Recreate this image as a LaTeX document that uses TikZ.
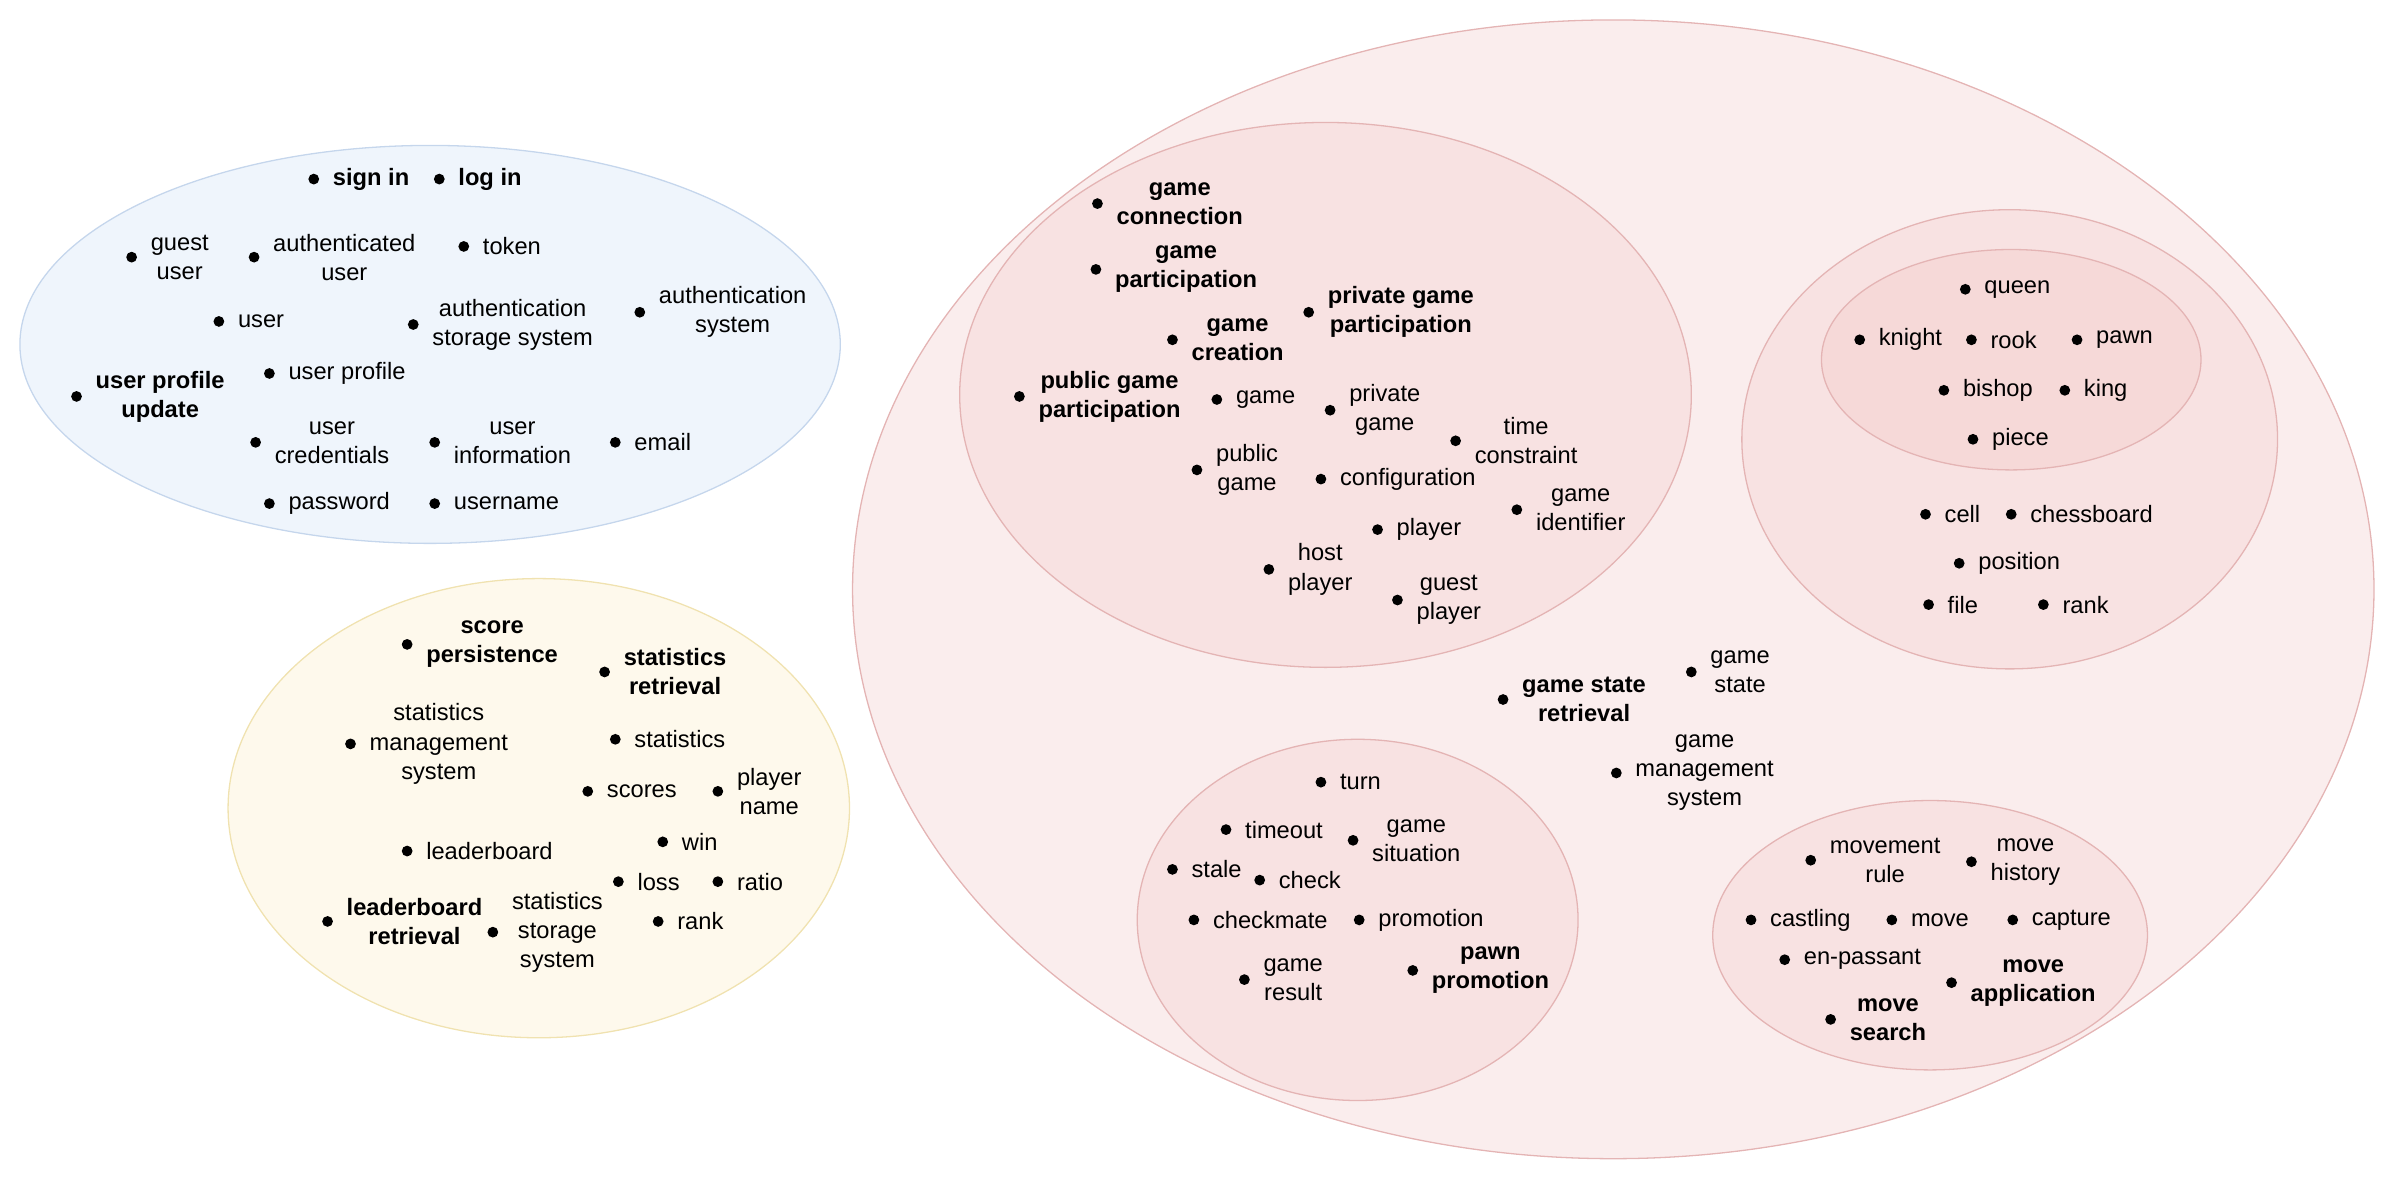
\documentclass[tikz,border=0pt]{standalone}
\usepackage{fontspec}
\setmainfont{Liberation Sans}
\usepackage{tikz}
\usetikzlibrary{positioning}

\definecolor{blueFill}{HTML}{EFF5FC}
\definecolor{blueLine}{HTML}{C5D6EC}
\definecolor{sandFill}{HTML}{FEF9EC}
\definecolor{sandLine}{HTML}{F0E2B0}
\definecolor{roseFill}{HTML}{FAEDED}
\definecolor{roseLine}{HTML}{E4B4B4}
\definecolor{roseMid}{HTML}{F8E2E2}
\definecolor{roseDeep}{HTML}{F6D9D8}

\begin{document}
\begin{tikzpicture}[
    x=0.025cm, y=-0.025cm,
    zone/.style={draw, line width=0.6pt},
    dot/.style={circle, fill=black, inner sep=0pt, minimum size=5pt},
    term/.style={anchor=west, align=center, inner sep=0pt,
                 font=\fontsize{11}{13.5}\selectfont},
    key/.style={term, font=\fontsize{11}{13.5}\selectfont\bfseries}
]
\useasboundingbox (0,0) rectangle (1568,772);

% =========================
% 1) ZONES
% =========================
\draw[zone, draw=blueLine, fill=blueFill] (281,225) ellipse [x radius=268, y radius=130];
\draw[zone, draw=sandLine, fill=sandFill] (352,528) ellipse [x radius=203, y radius=150];
\draw[zone, draw=roseLine, fill=roseFill] (1054,385) ellipse [x radius=497, y radius=372];
\draw[zone, draw=roseLine, fill=roseMid] (866,258) ellipse [x radius=239, y radius=178];
\draw[zone, draw=roseLine, fill=roseMid] (1313,287) ellipse [x radius=175, y radius=150];
\draw[zone, draw=roseLine, fill=roseDeep] (1314,235) ellipse [x radius=124, y radius=72];
\draw[zone, draw=roseLine, fill=roseMid] (887,601) ellipse [x radius=144, y radius=118];
\draw[zone, draw=roseLine, fill=roseMid] (1261,611) ellipse [x radius=142, y radius=88];

% =========================
% 2) PLAIN TERMS
% =========================
\foreach \n/\x/\y/\t in {
    guest/86/168/{guest\\user}, authuser/166/168/{authenticated\\user},
    token/303/161/{token}, user/143/210/{user},
    authstore/270/212/{authentication\\storage system},
    authsys/418/204/{authentication\\system},
    profile/176/244/{user profile}, creds/167/289/{user\\credentials},
    info/284/289/{user\\information}, email/402/289/{email},
    password/176/329/{password}, username/284/329/{username},
    statsys/229/486/{statistics\\management\\system},
    stats/402/483/{statistics}, scores/384/517/{scores},
    pname/469/517/{player\\name}, board/266/556/{leaderboard},
    win/433/550/{win}, loss/404/576/{loss}, ratio/469/576/{ratio},
    statstore/322/609/{statistics\\storage\\system}, srank/430/602/{rank},
    game/795/261/{game}, privgame/869/268/{private\\game},
    timec/951/288/{time\\constraint}, pubgame/782/307/{public\\game},
    config/863/313/{configuration}, gameid/991/333/{game\\identifier},
    player/900/346/{player}, host/829/372/{host\\player},
    guestp/913/392/{guest\\player},
    queen/1284/189/{queen}, knight/1215/222/{knight}, rook/1288/222/{rook},
    pawn/1357/222/{pawn}, bishop/1270/255/{bishop}, king/1349/255/{king},
    piece/1289/287/{piece}, cell/1258/336/{cell},
    chessboard/1314/336/{chessboard}, position/1280/368/{position},
    file/1260/395/{file}, rank/1335/395/{rank},
    gstate/1105/439/{game\\state}, gms/1056/505/{game\\management\\system},
    turn/863/511/{turn}, timeout/801/542/{timeout},
    situation/884/549/{game\\situation}, stale/766/568/{stale},
    check/823/575/{check}, mate/780/601/{checkmate},
    promo/888/601/{promotion}, result/813/640/{game\\result},
    rule/1183/562/{movement\\rule}, history/1288/563/{move\\history},
    castling/1144/601/{castling}, move/1236/601/{move},
    capture/1315/601/{capture}, passant/1166/627/{en-passant}%
} {
    \node[dot] (\n) at (\x,\y) {};
    \node[term, right=6pt of \n] (\n-t) {\t};
}

% =========================
% 3) USE CASES (BOLD)
% =========================
\foreach \n/\x/\y/\t in {
    signin/205/117/{sign in}, login/287/117/{log in},
    upd/50/259/{user profile\\update},
    persist/266/421/{score\\persistence},
    sretr/395/439/{statistics\\retrieval},
    lretr/214/602/{leaderboard\\retrieval},
    conn/717/133/{game\\connection}, part/716/176/{game\\participation},
    privpart/855/204/{private game\\participation},
    create/766/222/{game\\creation},
    pubpart/666/259/{public game\\participation},
    gsretr/982/457/{game state\\retrieval},
    ppromo/923/634/{pawn\\promotion},
    apply/1275/642/{move\\application}, search/1196/666/{move\\search}%
} {
    \node[dot] (\n) at (\x,\y) {};
    \node[key, right=6pt of \n] (\n-t) {\t};
}

\end{tikzpicture}
\end{document}
